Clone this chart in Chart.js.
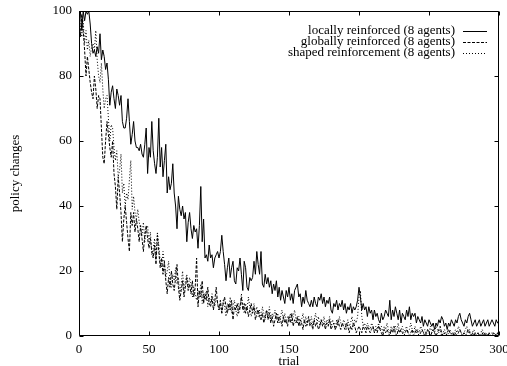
<!DOCTYPE html>
<html><head><meta charset="utf-8">
<script src="https://cdn.jsdelivr.net/npm/chart.js@4"></script>
<style>html,body{margin:0;padding:0;background:#fff;overflow:hidden}canvas{display:block}</style>
</head><body>
<canvas id="c" width="507" height="366"></canvas>
<script>
// ---- data ----
const xTickValues = [0, 50, 100, 150, 200, 250, 300];
const yTickValues = [0, 20, 40, 60, 80, 100];
const seriesNames = [
  'locally reinforced (8 agents)',
  'globally reinforced (8 agents)',
  'shaped reinforcement (8 agents)'
];
const xTitle = 'trial';
const yTitle = 'policy changes';

// one value per trial, trial 0..300
const locallyReinforced = [
 96,100,94,100,97,100,99,100,96,90,
 87,88,86,89,87,93,85,88,86,82,
 84,79,71,75,77,73,70,76,74,71,
 74,66,64,64,67,73,66,59,62,66,
 60,58,58,57,59,56,55,59,64,50,
 58,55,66,57,53,50,55,67,52,58,
 49,54,59,44,49,45,47,53,44,40,
 33,43,39,37,40,36,38,29,35,38,
 33,30,34,32,33,27,34,46,29,36,
 24,25,23,28,24,25,21,24,25,26,
 24,26,31,26,22,17,21,24,18,21,
 23,17,16,21,20,24,19,14,23,21,
 15,14,18,17,18,23,19,26,22,19,
 26,16,15,19,16,18,15,17,13,16,
 14,17,12,15,11,14,12,10,14,12,
 15,11,13,10,14,15,16,12,13,9,
 12,10,14,11,10,9,11,9,12,10,
 9,12,11,13,10,12,9,11,10,12,
 8,7,10,9,11,8,10,9,11,8,
 10,7,9,8,10,7,9,8,9,11,
 15,12,8,10,8,9,6,9,7,8,
 5,8,6,7,5,4,7,5,6,8,
 7,6,11,5,8,6,9,7,5,8,
 4,7,6,5,8,6,9,5,7,6,
 7,4,6,5,4,6,3,5,4,3,
 5,4,3,4,2,4,3,5,4,6,
 5,3,4,2,4,3,5,4,3,5,
 4,6,7,5,4,3,5,4,6,7,
 5,3,4,5,3,4,5,3,4,5,
 3,4,5,3,4,5,4,3,5,4,
 4];

const globallyReinforced = [
 97,92,99,94,88,80,86,82,78,75,
 73,80,76,70,74,73,64,55,53,60,
 66,62,58,55,60,50,46,39,49,44,
 38,29,36,40,35,30,26,38,34,38,
 32,36,33,29,34,30,26,31,34,30,
 27,30,26,24,28,22,31,26,21,24,
 19,23,17,13,18,15,20,16,14,18,
 22,15,11,14,17,12,15,18,14,16,
 13,17,12,15,24,9,14,12,17,10,
 13,11,15,10,9,12,8,11,15,10,
 8,11,7,10,12,9,7,10,8,11,
 5,9,8,10,7,9,12,8,10,7,
 9,6,8,10,7,9,5,7,8,6,
 5,7,4,6,8,5,7,4,6,3,
 5,7,4,6,5,3,6,4,5,3,
 6,4,7,3,5,4,6,3,5,4,
 2,5,3,4,6,3,4,2,5,3,
 4,2,3,5,3,4,2,4,3,5,
 2,3,4,2,3,5,3,2,4,3,
 2,4,3,1,3,2,4,3,1,2,
 3,2,1,3,2,1,3,2,1,2,
 3,1,2,1,3,2,1,0,2,1,
 2,1,0,2,1,3,1,0,2,1,
 2,1,0,1,2,1,0,1,2,0,
 1,2,1,0,1,2,1,0,1,2,
 1,0,1,2,1,0,1,2,3,1,
 0,1,0,1,2,1,0,1,0,1,
 0,1,2,1,0,1,0,1,2,1,
 0,1,0,1,0,1,0,0,1,0,
 1,0,0,1,0,0,1,0,0,1,
 0];

const shapedReinforcement = [
 100,95,92,97,90,94,88,91,86,89,
 90,88,94,85,80,78,84,76,70,73,
 74,67,60,65,64,58,54,57,49,51,
 56,44,47,40,44,42,48,54,39,43,
 38,36,39,35,33,31,35,29,33,34,
 29,32,25,27,30,24,32,28,23,21,
 26,22,18,20,23,17,15,19,17,21,
 16,18,13,16,20,14,17,19,15,18,
 16,12,15,13,11,14,12,16,10,13,
 11,14,9,12,10,13,11,9,12,10,
 8,10,7,11,9,6,10,8,12,7,
 9,11,8,6,10,8,13,9,7,10,
 8,12,9,6,8,10,7,9,6,8,
 5,9,7,5,8,6,9,5,7,6,
 8,5,7,4,6,8,5,7,4,6,
 5,7,4,6,8,5,4,6,3,5,
 7,4,6,3,5,4,6,3,5,7,
 4,6,3,5,4,6,3,5,4,6,
 3,5,4,2,5,3,6,4,3,5,
 4,2,5,3,4,6,3,5,4,6,
 12,14,6,3,4,2,4,3,2,4,
 3,1,3,2,4,2,3,1,3,2,
 4,2,1,3,2,1,3,2,4,1,
 2,3,1,2,3,1,2,4,2,1,
 3,1,2,1,3,2,1,2,0,2,
 1,3,1,2,1,3,2,1,2,0,
 1,2,1,0,1,2,1,0,1,2,
 1,3,2,1,0,1,2,3,1,2,
 0,1,2,1,0,1,0,1,2,1,
 0,1,0,1,0,1,0,1,0,1,
 0];

// ---- styling / chart ----
const FONT_FAMILY = "'Liberation Serif','Times New Roman',Times,serif";
const FONT_SIZE = 13;
const toPoints = arr => arr.map((v, i) => ({ x: i, y: v }));

const frameAndLegend = {
  id: 'frameAndLegend',
  afterDatasetsDraw(chart) {
    const { ctx, chartArea: a, scales } = chart;
    const xs = scales.x, ys = scales.y;
    ctx.save();
    ctx.strokeStyle = '#000';
    ctx.lineWidth = 1;
    ctx.setLineDash([]);
    const L = Math.round(a.left) + 0.5, R = Math.round(a.right) - 0.5;
    const T = Math.round(a.top) + 0.5, B = Math.round(a.bottom) - 0.5;
    ctx.beginPath();
    ctx.rect(L, T, R - L, B - T);
    const tl = 4;
    xTickValues.forEach(v => {
      const px = Math.round(xs.getPixelForValue(v)) + 0.5;
      ctx.moveTo(px, B); ctx.lineTo(px, B - tl);
      ctx.moveTo(px, T); ctx.lineTo(px, T + tl);
    });
    yTickValues.forEach(v => {
      const py = Math.round(ys.getPixelForValue(v)) + 0.5;
      ctx.moveTo(L, py); ctx.lineTo(L + tl, py);
      ctx.moveTo(R, py); ctx.lineTo(R - tl, py);
    });
    ctx.stroke();

    // legend (top right, text right-aligned, sample to the right)
    ctx.font = FONT_SIZE + 'px ' + FONT_FAMILY;
    ctx.fillStyle = '#000';
    ctx.textAlign = 'right';
    ctx.textBaseline = 'middle';
    chart.data.datasets.forEach((ds, i) => {
      const y = 31 + i * 11;
      ctx.fillText(ds.label, 455, y);
      ctx.beginPath();
      ctx.setLineDash(ds.borderDash || []);
      ctx.lineWidth = ds.borderWidth;
      ctx.strokeStyle = ds.borderColor;
      ctx.moveTo(463, Math.round(y) + 0.5);
      ctx.lineTo(487, Math.round(y) + 0.5);
      ctx.stroke();
    });
    ctx.restore();
  }
};

new Chart(document.getElementById('c'), {
  type: 'line',
  data: {
    datasets: [
      { label: seriesNames[0], data: toPoints(locallyReinforced), borderColor: '#000', borderWidth: 1, borderDash: [] },
      { label: seriesNames[1], data: toPoints(globallyReinforced), borderColor: '#000', borderWidth: 1, borderDash: [3, 1.5] },
      { label: seriesNames[2], data: toPoints(shapedReinforcement), borderColor: '#000', borderWidth: 1, borderDash: [1, 2] }
    ]
  },
  options: {
    responsive: false,
    animation: false,
    devicePixelRatio: 1,
    parsing: true,
    elements: { point: { radius: 0 }, line: { tension: 0, fill: false } },
    layout: { padding: { top: 11, right: 8, left: 0, bottom: 0 } },
    plugins: { legend: { display: false }, tooltip: { enabled: false } },
    scales: {
      x: {
        type: 'linear', min: 0, max: 300,
        afterBuildTicks: s => { s.ticks = xTickValues.map(v => ({ value: v })); },
        afterFit: s => { s.height = 30; s.paddingLeft = 0; s.paddingRight = 0; },
        grid: { display: false, drawTicks: false },
        border: { display: false },
        ticks: { color: '#000', padding: 6, maxRotation: 0, autoSkip: false, font: { family: FONT_FAMILY, size: FONT_SIZE } },
        title: { display: true, text: xTitle, color: '#000', padding: { top: 0, bottom: -3 }, font: { family: FONT_FAMILY, size: FONT_SIZE } }
      },
      y: {
        type: 'linear', min: 0, max: 100,
        afterBuildTicks: s => { s.ticks = yTickValues.map(v => ({ value: v })); },
        afterFit: s => { s.width = 79; s.paddingTop = 0; s.paddingBottom = 0; },
        grid: { display: false, drawTicks: false },
        border: { display: false },
        ticks: { color: '#000', padding: 7, autoSkip: false, font: { family: FONT_FAMILY, size: FONT_SIZE } },
        title: { display: true, text: yTitle, color: '#000', padding: { top: 8, bottom: 0 }, font: { family: FONT_FAMILY, size: FONT_SIZE } }
      }
    }
  },
  plugins: [frameAndLegend]
});
</script>
</body></html>
